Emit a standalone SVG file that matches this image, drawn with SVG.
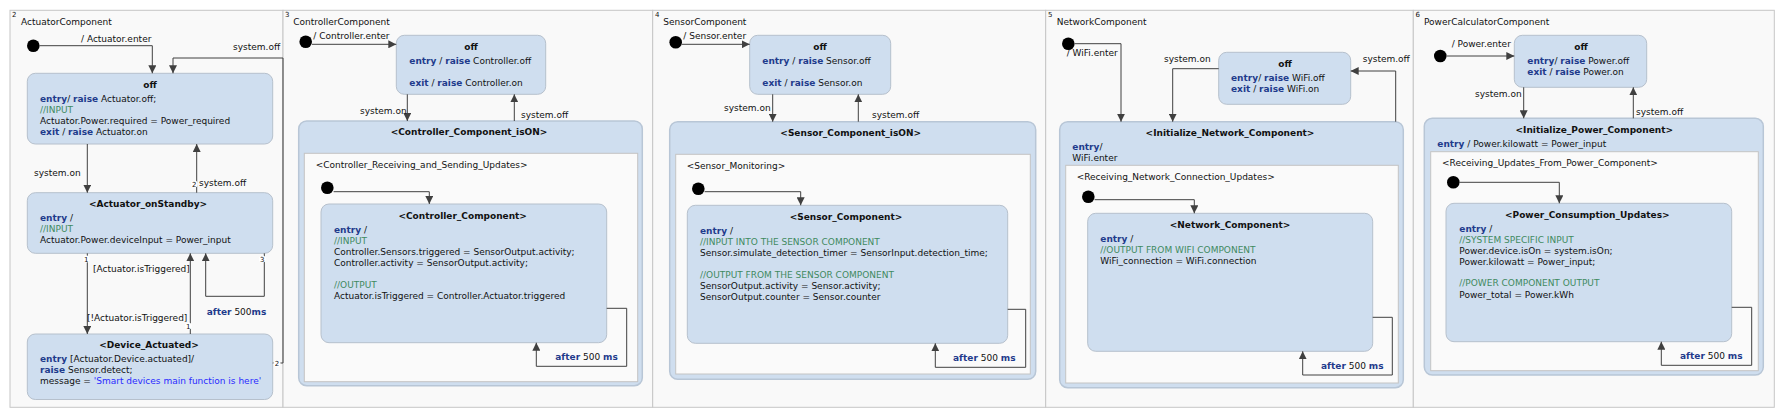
<svg xmlns="http://www.w3.org/2000/svg" width="1785" height="418" viewBox="0 0 1785 418">
<style>
text{font-family:"DejaVu Sans",Verdana,sans-serif;font-size:9px;fill:#111}
.b{font-weight:bold}
.m{text-anchor:middle}
.k{font-weight:bold;fill:#1f3b8c}
.c{fill:#3f8a5f}
.s{fill:#2a2aff}
.n{font-size:7px}
.st{fill:#cfdeef;stroke:#b6c0cc;stroke-width:1}
.cp{fill:#cfdeef;stroke:#b8c6d6;stroke-width:1.5}
.rg{fill:#fafafa;stroke:#c4c4c4;stroke-width:1}
.pn{fill:#f9f9f9;stroke:#c6c6c6;stroke-width:1}
.e{fill:none;stroke:#404040;stroke-width:1;marker-end:url(#a)}
.l{fill:none;stroke:#404040;stroke-width:1}
.d{fill:#000}
.w{fill:#fff}
</style>
<defs>
<marker id="a" markerUnits="userSpaceOnUse" markerWidth="8" markerHeight="8" refX="8" refY="4" orient="auto">
<path d="M0,0 L8,4 L0,8 z" fill="#404040"/>
</marker>
</defs>
<rect width="1785" height="418" fill="#fff"/>

<g id="panel-actuator">
<rect class="pn" x="10" y="10.3" width="273" height="397"/>
<text class="n" x="12" y="17">2</text>
<text x="21" y="25">ActuatorComponent</text>
</g>
<g id="panel-controller">
<rect class="pn" x="283" y="10.3" width="369.7" height="397"/>
<text class="n" x="285" y="17">3</text>
<text x="293.3" y="25">ControllerComponent</text>
</g>
<g id="panel-sensor">
<rect class="pn" x="652.7" y="10.3" width="393" height="397"/>
<text class="n" x="655" y="17">4</text>
<text x="663.3" y="25">SensorComponent</text>
</g>
<g id="panel-network">
<rect class="pn" x="1045.7" y="10.3" width="367.6" height="397"/>
<text class="n" x="1048" y="17">5</text>
<text x="1056.7" y="25">NetworkComponent</text>
</g>
<g id="panel-power">
<rect class="pn" x="1413.3" y="10.3" width="361" height="397"/>
<text class="n" x="1415.5" y="17">6</text>
<text x="1424" y="25">PowerCalculatorComponent</text>
</g>

<!-- Composite states and regions -->
<g id="controller-isON">
<rect class="cp" x="298.7" y="121" width="343.6" height="264.7" rx="8"/>
<text class="b m" x="469" y="135">&lt;Controller_Component_isON&gt;</text>
<rect class="rg" x="304.3" y="153.3" width="333.4" height="228.4"/>
<text x="315.7" y="168">&lt;Controller_Receiving_and_Sending_Updates&gt;</text>
</g>
<g id="sensor-isON">
<rect class="cp" x="669.7" y="121.7" width="366" height="257.6" rx="8"/>
<text class="b m" x="850.7" y="136">&lt;Sensor_Component_isON&gt;</text>
<rect class="rg" x="675.7" y="154.3" width="354.6" height="219.7"/>
<text x="686.7" y="169">&lt;Sensor_Monitoring&gt;</text>
</g>
<g id="network-init">
<rect class="cp" x="1059.7" y="121.7" width="343.6" height="266" rx="8"/>
<text class="b m" x="1230" y="136">&lt;Initialize_Network_Component&gt;</text>
<text x="1072.3" y="150"><tspan class="k">entry</tspan>/</text>
<text x="1072.3" y="161">WiFi.enter</text>
<rect class="rg" x="1065.7" y="165.3" width="332.6" height="217.7"/>
<text x="1076.7" y="180">&lt;Receiving_Network_Connection_Updates&gt;</text>
</g>
<g id="power-init">
<rect class="cp" x="1424.3" y="118.3" width="339" height="256.7" rx="8"/>
<text class="b m" x="1594.3" y="133">&lt;Initialize_Power_Component&gt;</text>
<text x="1437.3" y="147"><tspan class="k">entry</tspan> / Power.kilowatt = Power_input</text>
<rect class="rg" x="1430.7" y="151.7" width="327.6" height="219"/>
<text x="1442" y="166">&lt;Receiving_Updates_From_Power_Component&gt;</text>
</g>

<!-- Panel 1 states -->
<g id="act-init"><circle class="d" cx="33.3" cy="45.7" r="6.3"/></g>
<g id="act-off">
<rect class="st" x="27.3" y="73.3" width="245.4" height="70.7" rx="8"/>
<text class="b m" x="150" y="88">off</text>
<text x="40" y="102"><tspan class="k">entry</tspan>/ <tspan class="k">raise</tspan> Actuator.off;</text>
<text class="c" x="40" y="113">//INPUT</text>
<text x="40" y="124">Actuator.Power.required = Power_required</text>
<text x="40" y="135"><tspan class="k">exit</tspan> / <tspan class="k">raise</tspan> Actuator.on</text>
</g>
<g id="act-standby">
<rect class="st" x="27.3" y="192.7" width="245.4" height="60.6" rx="8"/>
<text class="b m" x="148" y="207">&lt;Actuator_onStandby&gt;</text>
<text x="40" y="221"><tspan class="k">entry</tspan> /</text>
<text class="c" x="40" y="232">//INPUT</text>
<text x="40" y="243">Actuator.Power.deviceInput = Power_input</text>
</g>
<g id="act-device">
<rect class="st" x="27.3" y="334" width="245.4" height="65.5" rx="8"/>
<text class="b m" x="149" y="348">&lt;Device_Actuated&gt;</text>
<text x="40" y="362"><tspan class="k">entry</tspan> [Actuator.Device.actuated]/</text>
<text x="40" y="373"><tspan class="k">raise</tspan> Sensor.detect;</text>
<text x="40" y="384">message = <tspan class="s">'Smart devices main function is here'</tspan></text>
</g>

<!-- Panel 2 states -->
<g id="ctl-init"><circle class="d" cx="305.7" cy="41.7" r="6.3"/></g>
<g id="ctl-off">
<rect class="st" x="396.3" y="35.3" width="149.4" height="59" rx="8"/>
<text class="b m" x="471" y="50">off</text>
<text x="409.3" y="64"><tspan class="k">entry</tspan> / <tspan class="k">raise</tspan> Controller.off</text>
<text x="409.3" y="86"><tspan class="k">exit</tspan> / <tspan class="k">raise</tspan> Controller.on</text>
</g>
<g id="ctl-inner-init"><circle class="d" cx="327.3" cy="187.7" r="6.3"/></g>
<g id="ctl-component">
<rect class="st" x="321" y="204" width="285.7" height="138.7" rx="8"/>
<text class="b m" x="462.7" y="219">&lt;Controller_Component&gt;</text>
<text x="334" y="233"><tspan class="k">entry</tspan> /</text>
<text class="c" x="334" y="244">//INPUT</text>
<text x="334" y="255">Controller.Sensors.triggered = SensorOutput.activity;</text>
<text x="334" y="266">Controller.activity = SensorOutput.activity;</text>
<text class="c" x="334" y="288">//OUTPUT</text>
<text x="334" y="299">Actuator.isTriggered = Controller.Actuator.triggered</text>
</g>

<!-- Panel 3 states -->
<g id="sen-init"><circle class="d" cx="675.7" cy="42.3" r="6.3"/></g>
<g id="sen-off">
<rect class="st" x="749.7" y="35.3" width="141" height="59" rx="8"/>
<text class="b m" x="820" y="50">off</text>
<text x="762.3" y="64"><tspan class="k">entry</tspan> / <tspan class="k">raise</tspan> Sensor.off</text>
<text x="762.3" y="86"><tspan class="k">exit</tspan> / <tspan class="k">raise</tspan> Sensor.on</text>
</g>
<g id="sen-inner-init"><circle class="d" cx="698.3" cy="188.7" r="6.3"/></g>
<g id="sen-component">
<rect class="st" x="687.3" y="205.3" width="320.4" height="138" rx="8"/>
<text class="b m" x="846" y="220">&lt;Sensor_Component&gt;</text>
<text x="700" y="234"><tspan class="k">entry</tspan> /</text>
<text class="c" x="700" y="245">//INPUT INTO THE SENSOR COMPONENT</text>
<text x="700" y="256">Sensor.simulate_detection_timer = SensorInput.detection_time;</text>
<text class="c" x="700" y="278">//OUTPUT FROM THE SENSOR COMPONENT</text>
<text x="700" y="289">SensorOutput.activity = Sensor.activity;</text>
<text x="700" y="300">SensorOutput.counter = Sensor.counter</text>
</g>

<!-- Panel 4 states -->
<g id="net-init"><circle class="d" cx="1068.3" cy="43.7" r="6.3"/></g>
<g id="net-off">
<rect class="st" x="1218.7" y="52.3" width="132" height="52" rx="8"/>
<text class="b m" x="1285" y="66.5">off</text>
<text x="1231" y="81"><tspan class="k">entry</tspan>/ <tspan class="k">raise</tspan> WiFi.off</text>
<text x="1231" y="92"><tspan class="k">exit</tspan> / <tspan class="k">raise</tspan> WiFi.on</text>
</g>
<g id="net-inner-init"><circle class="d" cx="1088.3" cy="196.7" r="6.3"/></g>
<g id="net-component">
<rect class="st" x="1087.7" y="213.3" width="285" height="138" rx="8"/>
<text class="b m" x="1230" y="228">&lt;Network_Component&gt;</text>
<text x="1100.3" y="242"><tspan class="k">entry</tspan> /</text>
<text class="c" x="1100.3" y="253">//OUTPUT FROM WIFI COMPONENT</text>
<text x="1100.3" y="264">WiFi_connection = WiFi.connection</text>
</g>

<!-- Panel 5 states -->
<g id="pow-init"><circle class="d" cx="1440.3" cy="56" r="6.3"/></g>
<g id="pow-off">
<rect class="st" x="1514.3" y="35.3" width="132.4" height="52" rx="8"/>
<text class="b m" x="1581" y="50">off</text>
<text x="1527.3" y="64"><tspan class="k">entry</tspan>/ <tspan class="k">raise</tspan> Power.off</text>
<text x="1527.3" y="75"><tspan class="k">exit</tspan> /  <tspan class="k">raise</tspan> Power.on</text>
</g>
<g id="pow-inner-init"><circle class="d" cx="1453.3" cy="182.3" r="6.3"/></g>
<g id="pow-component">
<rect class="st" x="1446" y="203.3" width="285.7" height="138.4" rx="8"/>
<text class="b m" x="1587.3" y="218">&lt;Power_Consumption_Updates&gt;</text>
<text x="1459.3" y="232"><tspan class="k">entry</tspan> /</text>
<text class="c" x="1459.3" y="243">//SYSTEM SPECIFIC INPUT</text>
<text x="1459.3" y="254">Power.device.isOn = system.isOn;</text>
<text x="1459.3" y="265">Power.kilowatt = Power_input;</text>
<text class="c" x="1459.3" y="286">//POWER COMPONENT OUTPUT</text>
<text x="1459.3" y="298">Power_total = Power.kWh</text>
</g>

<g id="connectors">
<!-- panel 1 -->
<path class="e" d="M39.6,45.7 H152.3 V73.3"/>
<text x="81" y="42">/ Actuator.enter</text>
<path class="e" d="M272.7,363 H283 V58 H173 V73.3"/>
<text x="233" y="50">system.off</text>
<path class="e" d="M87.3,144 V192.7"/>
<text x="34" y="176">system.on</text>
<path class="e" d="M196.7,192.7 V144"/>
<circle class="w" cx="194.3" cy="184" r="3.5"/>
<text class="n m" x="194.3" y="186.5">2</text>
<text x="199" y="186">system.off</text>
<path class="e" d="M87.3,253.3 V334"/>
<circle class="w" cx="86.3" cy="259" r="3.5"/>
<text class="n m" x="86.3" y="261.5">1</text>
<text x="93" y="272">[Actuator.isTriggered]</text>
<path class="e" d="M190.3,334 V253.3"/>
<text x="87" y="321">[!Actuator.isTriggered]</text>
<circle class="w" cx="188.3" cy="326" r="3.5"/>
<text class="n m" x="188.3" y="328.5">1</text>
<path class="e" d="M264.3,253.3 V296.3 H205.7 V253.3"/>
<circle class="w" cx="262.3" cy="259" r="3.5"/>
<text class="n m" x="262.3" y="261.5">3</text>
<text x="206.7" y="315"><tspan class="k">after</tspan> 500<tspan class="k">ms</tspan></text>
<circle class="w" cx="277" cy="363.5" r="3.5"/>
<text class="n m" x="277" y="366">2</text>
<!-- panel 2 -->
<path class="e" d="M312,44.3 H396.3"/>
<text x="313.3" y="39">/ Controller.enter</text>
<path class="e" d="M407.3,94.3 V121"/>
<text x="360" y="114">system.on</text>
<path class="e" d="M514.3,121 V94.3"/>
<text x="521" y="118">system.off</text>
<path class="e" d="M333.6,191.7 H429.3 V204"/>
<path class="e" d="M606.7,308.3 H626.7 V366.3 H536.3 V342.7"/>
<text x="555.3" y="360"><tspan class="k">after</tspan> 500 <tspan class="k">ms</tspan></text>
<!-- panel 3 -->
<path class="e" d="M682,44.3 H749.7"/>
<text x="683.3" y="39">/ Sensor.enter</text>
<path class="e" d="M772.7,94.3 V121.7"/>
<text x="724" y="110.5">system.on</text>
<path class="e" d="M858.3,121.7 V94.3"/>
<text x="872" y="118">system.off</text>
<path class="e" d="M704.6,191.7 H800.7 V205.3"/>
<path class="e" d="M1007.7,309.3 H1025.7 V367.3 H935.3 V343.3"/>
<text x="953" y="361"><tspan class="k">after</tspan> 500 <tspan class="k">ms</tspan></text>
<!-- panel 4 -->
<path class="e" d="M1074.6,43.7 H1121 V121.7"/>
<text x="1066.7" y="56">/ WiFi.enter</text>
<path class="e" d="M1218.7,68.7 H1172.7 V121.7"/>
<text x="1164" y="62">system.on</text>
<path class="e" d="M1395.7,121.7 V71 H1350.7"/>
<text x="1362.7" y="62">system.off</text>
<path class="e" d="M1094.6,199.7 H1194.3 V213.3"/>
<path class="e" d="M1372.7,317.3 H1392.3 V375 H1302.7 V351.3"/>
<text x="1321" y="369"><tspan class="k">after</tspan> 500 <tspan class="k">ms</tspan></text>
<!-- panel 5 -->
<path class="e" d="M1446.6,56 H1514.3"/>
<text x="1451.7" y="47">/ Power.enter</text>
<path class="e" d="M1523.7,87.3 V118.3"/>
<text x="1475" y="97">system.on</text>
<path class="e" d="M1633.3,118.3 V87.3"/>
<text x="1636" y="115">system.off</text>
<path class="e" d="M1459.6,182.3 H1559.3 V203.3"/>
<path class="e" d="M1731.7,307.3 H1751.7 V365.3 H1661.3 V341.7"/>
<text x="1680" y="359"><tspan class="k">after</tspan> 500 <tspan class="k">ms</tspan></text>
</g>
</svg>
